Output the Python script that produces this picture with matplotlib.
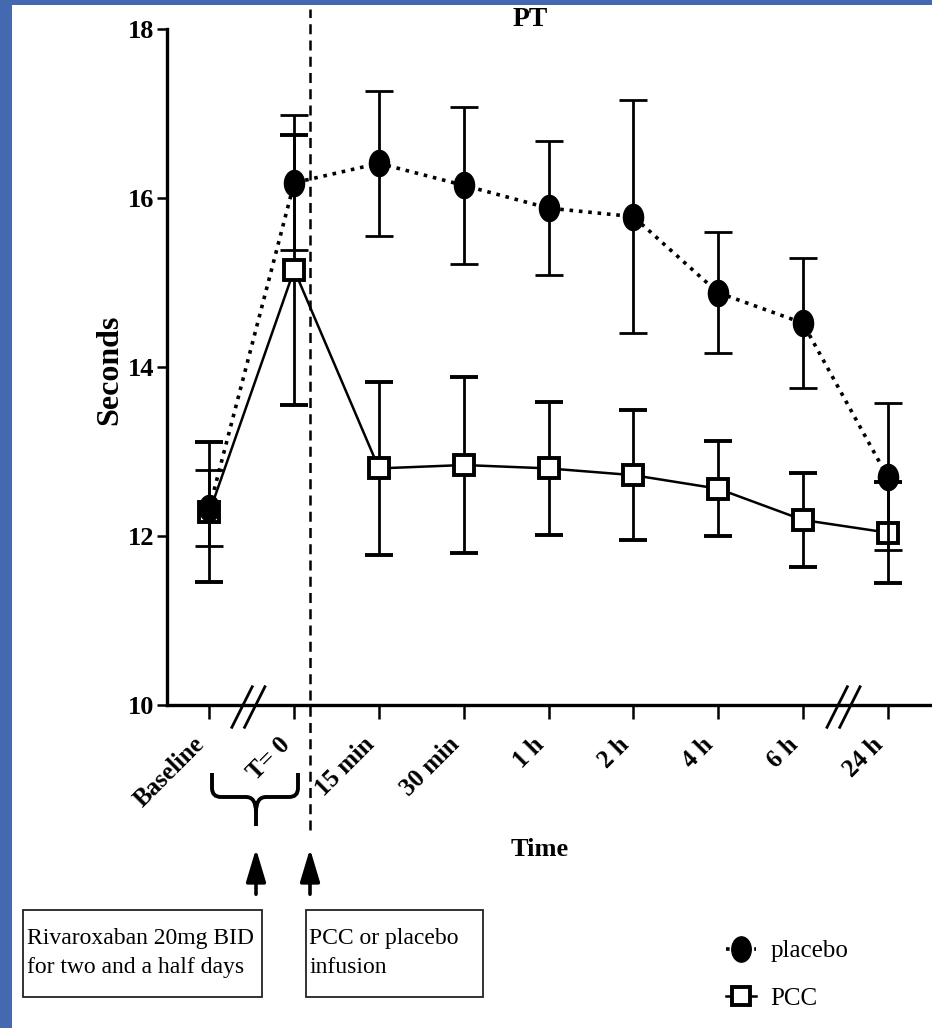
import numpy as np
import matplotlib.pyplot as plt
from matplotlib.markers import MarkerStyle
from matplotlib.transforms import Affine2D, blended_transform_factory
from matplotlib.patches import Rectangle, PathPatch, FancyArrowPatch
from matplotlib.path import Path
from matplotlib.lines import Line2D

plt.rcParams['font.family'] = ['Liberation Serif', 'DejaVu Serif']

# data (PT, seconds)
time_labels = ['Baseline', 'T= 0', '15 min', '30 min', '1 h', '2 h', '4 h', '6 h', '24 h']
placebo_mean = [12.33, 16.18, 16.41, 16.15, 15.88, 15.78, 14.88, 14.52, 12.70]
placebo_err = [0.45, 0.80, 0.86, 0.93, 0.79, 1.38, 0.72, 0.77, 0.87]
pcc_mean = [12.28, 15.15, 12.80, 12.84, 12.80, 12.72, 12.56, 12.19, 12.04]
pcc_err = [0.83, 1.60, 1.02, 1.04, 0.79, 0.77, 0.56, 0.56, 0.60]
infusion_x = 1.19  # dashed line, just after T=0
break_x = [0.46, 7.48]

W, H = 932, 1028
fig = plt.figure(figsize=(W / 100, H / 100), dpi=100)


def px(x, y):
    # pixel position (from top left) -> figure fraction
    return x / W, 1 - y / H


# blue slide frame
fig.add_artist(Rectangle((0, 0), 12 / W, 1, transform=fig.transFigure, color='#4469b1', lw=0))
fig.add_artist(Rectangle((0, 1 - 5 / H), 1, 5 / H, transform=fig.transFigure, color='#4469b1', lw=0))

ax = fig.add_axes([167 / W, 1 - 705 / H, (930 - 167) / W, (705 - 29) / H])
x = np.arange(len(time_labels))

ellipse = MarkerStyle('o', transform=Affine2D().scale(1, 1.3))
dotted = (0, (1, 1.6))

ax.errorbar(x, pcc_mean, yerr=pcc_err, color='k', lw=1.8, ls='-', marker='s', ms=15,
            mfc='white', mec='k', mew=2.8, capsize=10, capthick=2, elinewidth=2, zorder=3)
ax.errorbar(x, placebo_mean, yerr=placebo_err, color='k', lw=2.6, ls=dotted, marker=ellipse,
            ms=14.5, mfc='k', mec='k', capsize=10, capthick=2, elinewidth=2, zorder=4)

ax.set_xlim(-0.5, 8.5)
ax.set_ylim(10, 18)
ax.set_yticks([10, 12, 14, 16, 18])
ax.set_xticks(x)
ax.set_xticklabels(time_labels, rotation=45, ha='right', fontsize=18, fontweight='bold')
for lab in ax.get_yticklabels():
    lab.set_fontsize(19)
    lab.set_fontweight('bold')
ax.tick_params(axis='x', length=10, width=1.8, pad=10)
ax.tick_params(axis='y', length=7, width=1.8, pad=2)
for s in ['top', 'right']:
    ax.spines[s].set_visible(False)
for s in ['left', 'bottom']:
    ax.spines[s].set_linewidth(2.4)

# infusion line
ax.axvline(infusion_x, ymin=-0.185, ymax=1.03, clip_on=False, color='k', lw=1.8, ls=(0, (4, 2.5)))

# axis breaks
trans = blended_transform_factory(ax.transData, ax.transAxes)
for c in break_x:
    for off in [-0.075, 0.075]:
        ax.plot([c + off - 0.12, c + off + 0.12], [-0.033, 0.027], transform=trans,
                clip_on=False, color='k', lw=2)

fig.text(*px(530, 19), 'PT', ha='center', va='center', fontsize=20, fontweight='bold')
fig.text(*px(110, 370), 'Seconds', ha='center', va='center', rotation=90, fontsize=23, fontweight='bold')
fig.text(*px(540, 850), 'Time', ha='center', va='center', fontsize=19, fontweight='bold')

# brace under Baseline - T=0
verts = [px(212, 773), px(212, 788), px(212, 797), px(221, 797), px(246, 797),
         px(256, 797), px(256, 812), px(256, 826),
         px(256, 812), px(256, 797), px(266, 797), px(289, 797),
         px(298, 797), px(298, 788), px(298, 773)]
codes = [Path.MOVETO, Path.LINETO, Path.CURVE3, Path.CURVE3, Path.LINETO,
         Path.CURVE3, Path.CURVE3, Path.LINETO,
         Path.MOVETO, Path.CURVE3, Path.CURVE3, Path.LINETO,
         Path.CURVE3, Path.CURVE3, Path.LINETO]
fig.add_artist(PathPatch(Path(verts, codes), transform=fig.transFigure, fill=False, lw=2.8, color='k'))

# arrows
for ax_x in [256, 310]:
    fig.add_artist(FancyArrowPatch(px(ax_x, 897), px(ax_x, 846), transform=fig.transFigure,
                                   arrowstyle='-|>,head_length=1.0,head_width=0.3',
                                   mutation_scale=20, lw=2.6, color='k'))

# annotation boxes
fig.add_artist(Rectangle(px(23, 997), (262 - 23) / W, (997 - 910) / H, transform=fig.transFigure,
                         fill=False, lw=1.3, ec='#222222'))
fig.add_artist(Rectangle(px(306, 997), (483 - 306) / W, (997 - 910) / H, transform=fig.transFigure,
                         fill=False, lw=1.3, ec='#222222'))
fig.text(*px(27, 953), 'Rivaroxaban 20mg BID\nfor two and a half days', ha='left', va='center',
         fontsize=17, linespacing=1.45)
fig.text(*px(309, 953), 'PCC or placebo\ninfusion', ha='left', va='center',
         fontsize=17, linespacing=1.45)

# legend
handles = [Line2D([], [], color='k', ls=dotted, lw=2.6, marker=ellipse, ms=14, mfc='k'),
           Line2D([], [], color='k', ls='-', lw=1.8, marker='s', ms=13, mfc='white', mew=2.8)]
fig.legend(handles, ['placebo', 'PCC'], loc='center left', bbox_to_anchor=px(703, 975),
           frameon=False, fontsize=18, handlelength=1.2, handletextpad=0.6, labelspacing=1.0)

fig.savefig('out.png', dpi=100)
